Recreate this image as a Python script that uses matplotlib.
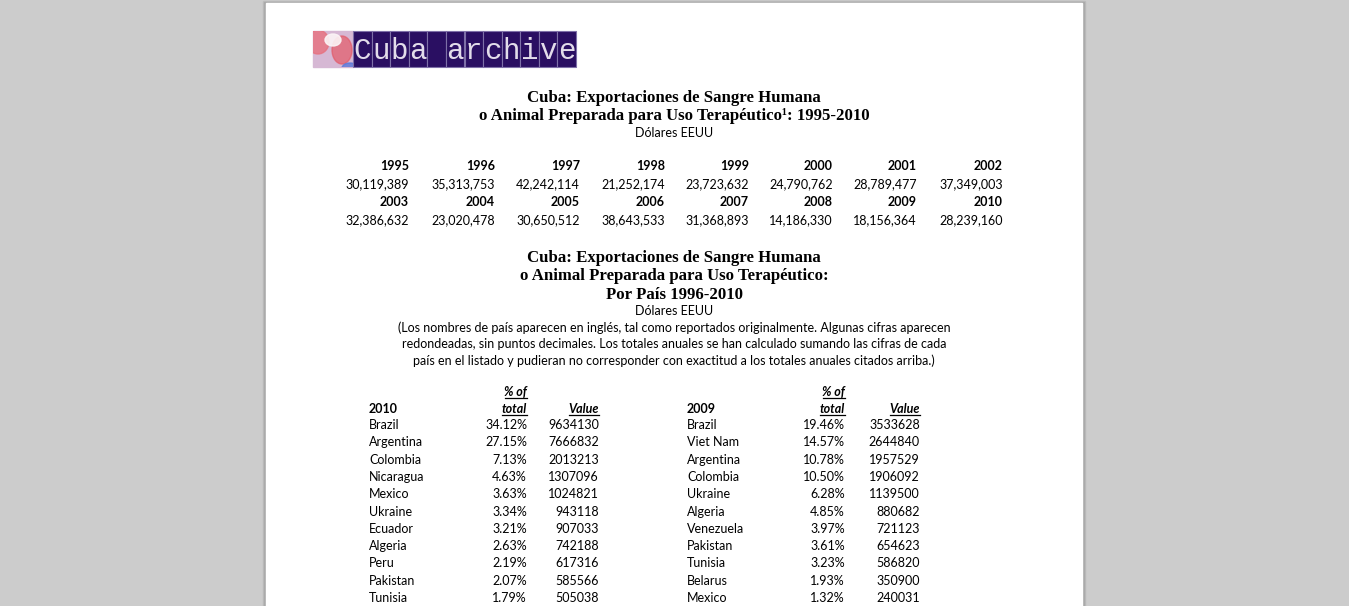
import matplotlib.pyplot as plt
from matplotlib.patches import Rectangle, Ellipse

# datos
years = [1995, 1996, 1997, 1998, 1999, 2000, 2001, 2002,
         2003, 2004, 2005, 2006, 2007, 2008, 2009, 2010]
totals = [30119389, 35313753, 42242114, 21252174, 23723632, 24790762, 28789477, 37349003,
          32386632, 23020478, 30650512, 38643533, 31368893, 14186330, 18156364, 28239160]

countries_2010 = ['Brazil', 'Argentina', 'Colombia', 'Nicaragua', 'Mexico', 'Ukraine',
                  'Ecuador', 'Algeria', 'Peru', 'Pakistan', 'Tunisia']
pct_2010 = [34.12, 27.15, 7.13, 4.63, 3.63, 3.34, 3.21, 2.63, 2.19, 2.07, 1.79]
val_2010 = [9634130, 7666832, 2013213, 1307096, 1024821, 943118, 907033, 742188,
            617316, 585566, 505038]

countries_2009 = ['Brazil', 'Viet Nam', 'Argentina', 'Colombia', 'Ukraine', 'Algeria',
                  'Venezuela', 'Pakistan', 'Tunisia', 'Belarus', 'Mexico']
pct_2009 = [19.46, 14.57, 10.78, 10.50, 6.28, 4.85, 3.97, 3.61, 3.23, 1.93, 1.32]
val_2009 = [3533628, 2644840, 1957529, 1906092, 1139500, 880682, 721123, 654623,
            586820, 350900, 240031]

title1 = ['Cuba: Exportaciones de Sangre Humana',
          'o Animal Preparada para Uso Terapéutico¹: 1995-2010']
title2 = ['Cuba: Exportaciones de Sangre Humana',
          'o Animal Preparada para Uso Terapéutico:',
          'Por País 1996-2010']
nota = ['(Los nombres de país aparecen en inglés, tal como reportados originalmente. Algunas cifras aparecen',
        'redondeadas, sin puntos decimales. Los totales anuales se han calculado sumando las cifras de cada',
        'país en el listado y pudieran no corresponder con exactitud a los totales anuales citados arriba.)']

SERIF = 'Liberation Serif'
SANS = 'Lato'
TSIZE = 12.1

fig = plt.figure(figsize=(13.49, 6.06), dpi=100, facecolor='#cccccc')
ax = fig.add_axes([0, 0, 1, 1])
ax.set_xlim(0, 1349)
ax.set_ylim(606, 0)
ax.axis('off')

# pagina con sombra
ax.add_patch(Rectangle((263, 1), 822, 606, color='#bcbcbc', zorder=0))
ax.add_patch(Rectangle((264, 2), 820, 606, color='#aaaaaa', zorder=0))
ax.add_patch(Rectangle((266, 3), 816, 606, color='white', zorder=1))

# logo
flag = Rectangle((313, 31), 40, 36, color='#d6b8d4', zorder=2)
ax.add_patch(flag)
for (cx, cy, w, h, col, a) in [(318, 42, 22, 24, '#e7707e', 0.8),
                               (342, 50, 20, 28, '#e35a68', 0.7),
                               (333, 40, 16, 12, '#fbf4f6', 0.9),
                               (350, 68, 16, 10, '#5a78d8', 0.8)]:
    e = Ellipse((cx, cy), w, h, color=col, alpha=a, zorder=3)
    ax.add_patch(e)
    e.set_clip_path(flag)
cell_w = (576 - 353) / 12
for i, ch in enumerate('Cuba archive'):
    x0 = 353 + i * cell_w
    ax.add_patch(Rectangle((x0, 31), cell_w, 36, facecolor='#2a0f62',
                           edgecolor='#7e70a8', lw=0.8, zorder=2))
    ax.text(x0 + cell_w / 2, 51, ch, ha='center', va='center', color='#e2dcea',
            fontsize=21, family='Liberation Mono', zorder=4)

# titulo 1
for i, line in enumerate(title1):
    ax.text(674, 98 + i * 18, line, ha='center', va='center', fontsize=TSIZE,
            fontweight='bold', family=SERIF, zorder=5)
ax.text(674, 133, 'Dólares EEUU', ha='center', va='center', fontsize=9, family=SANS, zorder=5)

# tabla de totales anuales
col_x = [409, 495, 580, 665, 749, 833, 917, 1003]
for r in range(2):
    for c in range(8):
        k = r * 8 + c
        y = 166 + r * 36
        ax.text(col_x[c], y, str(years[k]), ha='right', va='center', fontsize=9,
                fontweight='bold', family=SANS, zorder=5)
        ax.text(col_x[c], y + 18, f'{totals[k]:,}', ha='right', va='center',
                fontsize=9, family=SANS, zorder=5)

# titulo 2
for i, line in enumerate(title2):
    ax.text(674, 258 + i * 18.5, line, ha='center', va='center', fontsize=TSIZE,
            fontweight='bold', family=SERIF, zorder=5)
ax.text(674, 311, 'Dólares EEUU', ha='center', va='center', fontsize=9, family=SANS, zorder=5)
for i, line in enumerate(nota):
    ax.text(674, 328 + i * 16.3, line, ha='center', va='center', fontsize=9,
            family=SANS, zorder=5)

renderer = fig.canvas.get_renderer()


def tabla(x_pais, x_pct, x_val, year, paises, pcts, vals):
    ax.text(x_pais, 409, str(year), ha='left', va='center', fontsize=9,
            fontweight='bold', family=SANS, zorder=5)
    for txt, x, y in [('% of', x_pct, 392), ('total', x_pct, 409), ('Value', x_val, 409)]:
        t = ax.text(x, y, txt, ha='right', va='center', fontsize=9, fontweight='bold',
                    style='italic', family=SANS, zorder=5)
        # subrayado del ancho del texto
        bb = t.get_window_extent(renderer).transformed(ax.transData.inverted())
        ax.plot([bb.x0 + 0.5, x], [y + 5.5, y + 5.5], color='black', lw=0.9, zorder=5)
    for i, (p, pc, v) in enumerate(zip(paises, pcts, vals)):
        y = 425 + i * 17.3
        ax.text(x_pais, y, p, ha='left', va='center', fontsize=9, family=SANS, zorder=5)
        ax.text(x_pct, y, f'{pc:.2f}%', ha='right', va='center', fontsize=9,
                family=SANS, zorder=5)
        ax.text(x_val, y, str(v), ha='right', va='center', fontsize=9,
                family=SANS, zorder=5)


tabla(369, 527, 599, 2010, countries_2010, pct_2010, val_2010)
tabla(687, 845, 920, 2009, countries_2009, pct_2009, val_2009)

fig.savefig('out.png', dpi=100, facecolor=fig.get_facecolor())
